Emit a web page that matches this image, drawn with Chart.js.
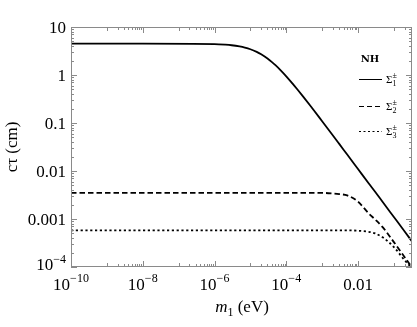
<!DOCTYPE html>
<html><head><meta charset="utf-8">
<script src="https://cdn.jsdelivr.net/npm/chart.js@4/dist/chart.umd.min.js"></script>
<style>html,body{margin:0;padding:0;background:#fff}#wrap{width:417px;height:327px}</style>
</head><body><div id="wrap"><canvas id="c" width="417" height="327"></canvas></div>
<script>
// ---- data ----
const m1 = [1e-10, 1e-8, 1e-6, 2e-6, 3e-6, 5e-6, 7e-6, 1e-5, 1.5e-5, 2e-5, 3e-5, 4e-5, 5e-5, 7e-5, 1e-4, 1.5e-4, 2e-4, 3e-4, 5e-4, 1e-3, 2e-3, 3e-3, 5e-3, 0.01, 0.02, 0.03, 0.05, 0.1, 0.2, 0.32];
const sigma1 = [4.5, 4.5, 4.4, 4.28, 4.17, 3.94, 3.73, 3.44, 3.03, 2.7, 2.2, 1.85, 1.6, 1.25, 0.94, 0.662, 0.51, 0.35, 0.215, 0.109, 0.055, 0.0367, 0.022, 0.011, 0.0055, 0.0037, 0.0022, 0.0011, 0.00055, 0.00034];
const sigma2 = [0.0035, 0.0035, 0.0035, 0.0035, 0.0035, 0.0035, 0.0035, 0.0035, 0.0035, 0.0035, 0.0035, 0.0035, 0.0035, 0.0035, 0.0035, 0.0035, 0.0035, 0.0035, 0.0035, 0.0035, 0.0034, 0.0033, 0.0031, 0.0023, 0.0013, 0.00098, 0.00066, 0.00033, 0.00016, 0.0000975];
const sigma3 = [0.00058, 0.00058, 0.00058, 0.00058, 0.00058, 0.00058, 0.00058, 0.00058, 0.00058, 0.00058, 0.00058, 0.00058, 0.00058, 0.00058, 0.00058, 0.00058, 0.00058, 0.00058, 0.00058, 0.00058, 0.00058, 0.00058, 0.00058, 0.00057, 0.00054, 0.0005, 0.00041, 0.00026, 0.000138, 0.000094];
const xTickValues = [1e-10, 1e-8, 1e-6, 1e-4, 0.01];
const xTickLabels = [['10', '\u221210'], ['10', '\u22128'], ['10', '\u22126'], ['10', '\u22124'], ['0.01', '']];
const yTickValues = [10, 1, 0.1, 0.01, 0.001, 1e-4];
const yTickLabels = [['10', ''], ['1', ''], ['0.1', ''], ['0.01', ''], ['0.001', ''], ['10', '\u22124']];
const seriesNames = ['1', '2', '3'];
const legendTitle = 'NH';
const xTitle = ['m', '1', ' (eV)'];
const yTitle = 'c\u03C4 (cm)';

const SERIF = "'Liberation Serif', 'Times New Roman', serif";
const frameColor = '#8a8a8a';

const overlay = {
  id: 'overlay',
  afterDraw(chart) {
    const ctx = chart.ctx, a = chart.chartArea;
    const xs = chart.scales.x, ys = chart.scales.y;
    ctx.save();
    // frame
    ctx.strokeStyle = frameColor; ctx.lineWidth = 1;
    ctx.strokeRect(Math.round(a.left) + 0.5, Math.round(a.top) + 0.5, Math.round(a.right - a.left) - 1, Math.round(a.bottom - a.top) - 1);
    // x ticks (bottom and top, inward)
    const xt = [];
    for (let k = -10; k <= -1; k++) {
      if (k % 2 === 0) xt.push([Math.pow(10, k), 6]);
      else for (let j = 1; j <= 9; j++) xt.push([j * Math.pow(10, k), j === 1 ? 4 : 3]);
    }
    ctx.beginPath();
    xt.forEach(([v, len]) => {
      if (v < xs.min || v > xs.max) return;
      const px = Math.round(xs.getPixelForValue(v)) + 0.5;
      ctx.moveTo(px, a.bottom); ctx.lineTo(px, a.bottom - len);
      ctx.moveTo(px, a.top); ctx.lineTo(px, a.top + len);
    });
    // y ticks
    for (let k = -4; k <= 1; k++) {
      for (let j = 1; j <= 9; j++) {
        const v = j * Math.pow(10, k);
        if (v < ys.min * 0.999 || v > ys.max * 1.001) continue;
        const len = j === 1 ? 6 : 3;
        const py = Math.round(ys.getPixelForValue(v)) + 0.5;
        ctx.moveTo(a.left, py); ctx.lineTo(a.left + len, py);
        ctx.moveTo(a.right, py); ctx.lineTo(a.right - len, py);
      }
    }
    ctx.stroke();

    // tick labels
    ctx.fillStyle = '#000';
    ctx.textBaseline = 'alphabetic';
    const baseFont = '17px ' + SERIF, expFont = '12px ' + SERIF;
    xTickValues.forEach((v, i) => {
      const [b, e] = xTickLabels[i];
      ctx.font = baseFont; const wb = ctx.measureText(b).width;
      ctx.font = expFont; const we = e ? ctx.measureText(e).width : 0;
      const px = xs.getPixelForValue(v);
      const x0 = px - (wb + we) / 2;
      ctx.font = baseFont; ctx.textAlign = 'left'; ctx.fillText(b, x0, 290);
      if (e) { ctx.font = expFont; ctx.fillText(e, x0 + wb, 282); }
    });
    yTickValues.forEach((v, i) => {
      const [b, e] = yTickLabels[i];
      ctx.font = baseFont; const wb = ctx.measureText(b).width;
      ctx.font = expFont; const we = e ? ctx.measureText(e).width : 0;
      const py = ys.getPixelForValue(v);
      const right = 66;
      const shift = e ? -3 : 0;
      ctx.textAlign = 'left';
      ctx.font = baseFont; ctx.fillText(b, right - we - wb, py + 6 + shift);
      if (e) { ctx.font = expFont; ctx.fillText(e, right - we, py - 1 + shift); }
    });

    // axis titles
    ctx.font = 'italic 17px ' + SERIF; const wm = ctx.measureText(xTitle[0]).width;
    ctx.font = '12px ' + SERIF; const ws = ctx.measureText(xTitle[1]).width;
    ctx.font = '17px ' + SERIF; const wr = ctx.measureText(xTitle[2]).width;
    let tx = 242 - (wm + ws + wr) / 2;
    ctx.textAlign = 'left';
    ctx.font = 'italic 17px ' + SERIF; ctx.fillText(xTitle[0], tx, 312); tx += wm;
    ctx.font = '12px ' + SERIF; ctx.fillText(xTitle[1], tx, 316); tx += ws;
    ctx.font = '17px ' + SERIF; ctx.fillText(xTitle[2], tx, 312);

    ctx.save();
    ctx.translate(17, 147); ctx.rotate(-Math.PI / 2);
    ctx.font = '17px ' + SERIF; ctx.textAlign = 'center';
    ctx.fillText(yTitle, 0, 0);
    ctx.restore();

    // legend
    ctx.font = "bold 10px 'DejaVu Serif', serif"; ctx.textAlign = 'center';
    ctx.fillText(legendTitle, 370, 62);
    const rows = [79, 106, 131];
    const dashes = [[], [5, 3], [2, 2.5]];
    rows.forEach((ry, i) => {
      ctx.strokeStyle = '#000'; ctx.lineWidth = 1;
      ctx.setLineDash(dashes[i]);
      ctx.beginPath(); ctx.moveTo(359, ry + 0.5); ctx.lineTo(382, ry + 0.5); ctx.stroke();
      ctx.setLineDash([]);
      ctx.textAlign = 'left';
      ctx.font = '11px ' + SERIF; ctx.fillText('\u03A3', 386, ry + 4);
      const wS = ctx.measureText('\u03A3').width;
      ctx.font = '8px ' + SERIF;
      ctx.fillText('\u00B1', 386 + wS, ry - 1);
      ctx.fillText(seriesNames[i], 386 + wS, ry + 7);
    });
    ctx.restore();
  }
};

const mk = (arr) => m1.map((x, i) => ({ x: x, y: arr[i] }));
new Chart(document.getElementById('c'), {
  type: 'line',
  data: {
    datasets: [
      { data: mk(sigma1), borderColor: '#000', borderWidth: 1.8, pointRadius: 0, cubicInterpolationMode: 'monotone' },
      { data: mk(sigma2), borderColor: '#000', borderWidth: 1.8, borderDash: [5.5, 3], pointRadius: 0, cubicInterpolationMode: 'monotone' },
      { data: mk(sigma3), borderColor: '#000', borderWidth: 1.8, borderDash: [2.2, 2.6], pointRadius: 0, cubicInterpolationMode: 'monotone' }
    ]
  },
  options: {
    responsive: false, animation: false, devicePixelRatio: 1,
    layout: { padding: { left: 71, top: 27, right: 5, bottom: 60 } },
    plugins: { legend: { display: false }, tooltip: { enabled: false } },
    scales: {
      x: { type: 'logarithmic', min: 1e-10, max: 0.32, display: false },
      y: { type: 'logarithmic', min: 1e-4, max: 10, display: false }
    }
  },
  plugins: [overlay]
});
</script></body></html>
